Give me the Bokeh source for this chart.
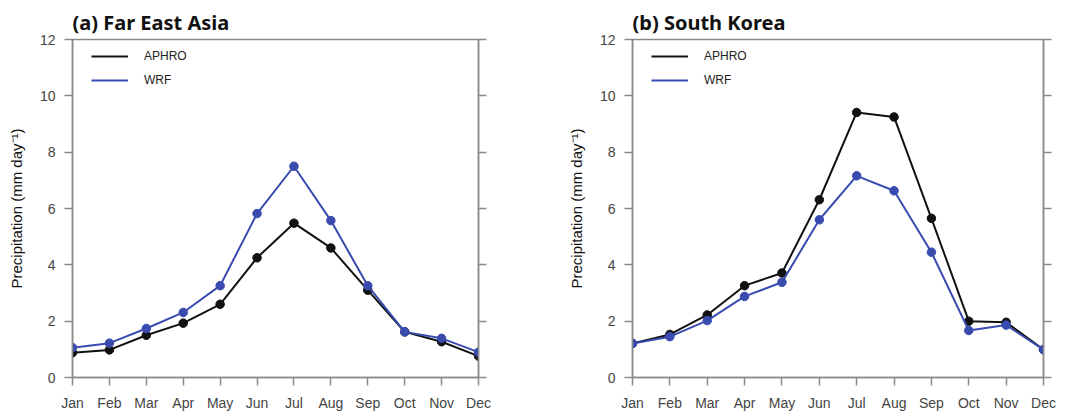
from bokeh.plotting import figure
from bokeh.models import Range1d, FixedTicker, LinearAxis, Legend, LegendItem
from bokeh.layouts import row
from bokeh.embed import file_html
from bokeh.resources import INLINE

months = ["Jan", "Feb", "Mar", "Apr", "May", "Jun", "Jul", "Aug", "Sep", "Oct", "Nov", "Dec"]
fea_aphro = [0.88, 0.98, 1.50, 1.93, 2.60, 4.25, 5.48, 4.60, 3.10, 1.62, 1.27, 0.76]
fea_wrf = [1.06, 1.22, 1.74, 2.31, 3.26, 5.82, 7.50, 5.57, 3.26, 1.62, 1.39, 0.90]
kor_aphro = [1.21, 1.53, 2.22, 3.26, 3.71, 6.31, 9.41, 9.25, 5.65, 2.00, 1.96, 0.99]
kor_wrf = [1.21, 1.45, 2.02, 2.88, 3.38, 5.60, 7.16, 6.63, 4.45, 1.67, 1.86, 0.99]
y_ticks = [0, 2, 4, 6, 8, 10, 12]

BLACK = "#111111"
BLUE = "#3a4bb0"
GRAY = "#8a8a8a"
FONT = "Liberation Sans"


def make(title, aphro, wrf, width, bl, br):
    x = list(range(len(months)))
    p = figure(width=width, height=416, output_backend="svg", toolbar_location=None,
               x_range=Range1d(0, 11), y_range=Range1d(0, 12),
               min_border_left=bl, min_border_right=br, min_border_top=39, min_border_bottom=39,
               title=title)
    p.title.text_font = "Noto Sans"
    p.title.text_font_size = "20px"
    p.title.text_font_style = "bold"
    p.title.text_color = "#111111"
    p.title.align = "left"
    p.title.standoff = 8
    p.xgrid.visible = False
    p.ygrid.visible = False
    p.outline_line_color = GRAY
    p.outline_line_width = 1.5
    p.background_fill_color = "white"
    p.border_fill_color = "white"

    xa = p.xaxis[0]
    xa.ticker = FixedTicker(ticks=x)
    xa.major_label_overrides = {i: m for i, m in enumerate(months)}
    ya = p.yaxis[0]
    ya.ticker = FixedTicker(ticks=y_ticks)
    ya.axis_label = "Precipitation (mm day\u207b\u00b9)"
    ya.axis_label_text_font = FONT
    ya.axis_label_text_font_size = "15px"
    ya.axis_label_text_font_style = "normal"
    ya.axis_label_text_color = "#111111"
    ya.axis_label_standoff = 12
    for ax in (xa, ya):
        ax.axis_line_color = GRAY
        ax.axis_line_width = 1.5
        ax.major_tick_line_color = GRAY
        ax.major_tick_line_width = 1.5
        ax.major_tick_out = 8
        ax.major_tick_in = 0
        ax.minor_tick_line_color = None
        ax.major_label_text_font = FONT
        ax.major_label_text_font_size = "14px"
        ax.major_label_text_color = "#444444"
        ax.major_label_standoff = 9

    ra = LinearAxis(ticker=FixedTicker(ticks=y_ticks))
    ra.axis_line_color = GRAY
    ra.axis_line_width = 1.5
    ra.major_tick_line_color = GRAY
    ra.major_tick_line_width = 1.5
    ra.major_tick_out = 8
    ra.major_tick_in = 0
    ra.minor_tick_line_color = None
    ra.major_label_text_alpha = 0
    ra.major_label_text_font_size = "8px"
    p.add_layout(ra, "right")

    l1 = p.line(x, aphro, line_color=BLACK, line_width=2)
    p.scatter(x, aphro, size=8.5, fill_color=BLACK, line_color=BLACK)
    l2 = p.line(x, wrf, line_color=BLUE, line_width=2)
    p.scatter(x, wrf, size=8.5, fill_color=BLUE, line_color=BLUE)

    leg = Legend(items=[LegendItem(label="APHRO", renderers=[l1]),
                        LegendItem(label="WRF", renderers=[l2])],
                 location=(19, 287))
    leg.border_line_color = None
    leg.background_fill_alpha = 0
    leg.padding = 0
    leg.margin = 0
    leg.spacing = 4
    leg.glyph_width = 37
    leg.glyph_height = 20
    leg.label_standoff = 16
    leg.label_text_font = FONT
    leg.label_text_font_size = "12px"
    leg.label_text_color = "#222222"
    p.add_layout(leg)
    return p


p1 = make("(a) Far East Asia", fea_aphro, fea_wrf, 540, 72, 62)
p2 = make("(b) South Korea", kor_aphro, kor_wrf, 533, 92, 30)
layout = row(p1, p2)

open("out.html", "w").write(file_html(layout, INLINE))
